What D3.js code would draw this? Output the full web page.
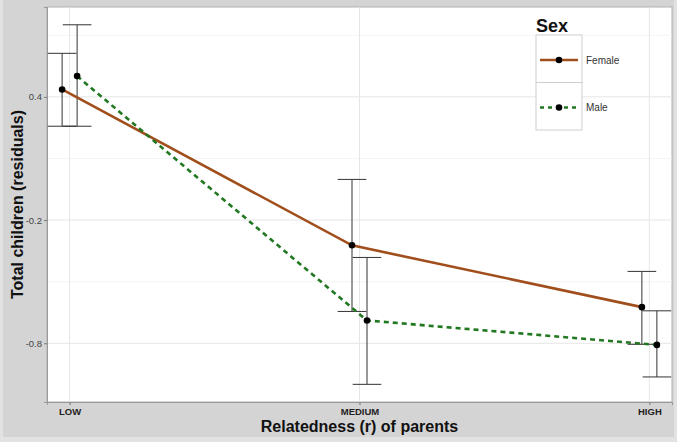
<!DOCTYPE html>
<html>
<head>
<meta charset="utf-8">
<script src="https://d3js.org/d3.v7.min.js"></script>
<style>
  body { margin: 0; background: #e2e2e2; }
  svg { display: block; font-family: "Liberation Sans", Arial, sans-serif; }
</style>
</head>
<body>
<div id="chart"></div>
<script>
// data
const categories = ["LOW", "MEDIUM", "HIGH"];
const sexes = ["Female", "Male"];
const femaleMean = [0.436, -0.323, -0.624];
const femaleLow = [0.257, -0.645, -0.805];
const femaleHigh = [0.612, -0.002, -0.450];
const maleMean = [0.501, -0.689, -0.808];
const maleLow = [0.257, -1.0, -0.964];
const maleHigh = [0.751, -0.382, -0.642];
const yTicks = [0.4, -0.2, -0.8];
const yMinor = [0.7, 0.1, -0.5];

const series = [
  { sex: sexes[0], mean: femaleMean, lo: femaleLow, hi: femaleHigh, color: "#a04f1c", dash: null, dodge: -1 },
  { sex: sexes[1], mean: maleMean, lo: maleLow, hi: maleHigh, color: "#217821", dash: "5,4", dodge: 1 }
];

const W = 677, H = 442;
const panel = { left: 47, right: 672, top: 7, bottom: 402 };

const svg = d3.select("#chart").append("svg")
  .attr("width", W).attr("height", H);

// outer gray background
svg.append("rect").attr("x", 3).attr("y", 0).attr("width", W - 6).attr("height", H - 5)
  .attr("fill", "#d4d4d4");

const x = d3.scalePoint().domain(categories)
  .range([panel.left, panel.right]).padding(0.078);
const y = d3.scaleLinear().domain([-1.086, 0.8376])
  .range([panel.bottom, panel.top]);
const dodgeW = 7.5, capW = 14.3;

// panel
svg.append("rect")
  .attr("x", panel.left).attr("y", panel.top)
  .attr("width", panel.right - panel.left).attr("height", panel.bottom - panel.top)
  .attr("fill", "#fff").attr("stroke", "#b0b0b0");

const grid = svg.append("g");
grid.selectAll(".minor").data(yMinor).join("line")
  .attr("x1", panel.left).attr("x2", panel.right)
  .attr("y1", d => y(d)).attr("y2", d => y(d))
  .attr("stroke", "#f2f2f2").attr("stroke-width", 0.8);
grid.selectAll(".major").data(yTicks).join("line")
  .attr("x1", panel.left).attr("x2", panel.right)
  .attr("y1", d => y(d)).attr("y2", d => y(d))
  .attr("stroke", "#e6e6e6").attr("stroke-width", 1);
grid.selectAll(".vx").data(categories).join("line")
  .attr("x1", d => x(d)).attr("x2", d => x(d))
  .attr("y1", panel.top).attr("y2", panel.bottom)
  .attr("stroke", "#e6e6e6").attr("stroke-width", 1);

// axis titles (drawn first so tick labels stay on top)
svg.append("text").attr("x", (panel.left + panel.right) / 2).attr("y", 432)
  .attr("text-anchor", "middle").attr("font-size", 16).attr("font-weight", "bold")
  .attr("fill", "#111").text("Relatedness (r) of parents");
svg.append("text").attr("transform", `translate(23,${(panel.top + panel.bottom) / 2}) rotate(-90)`)
  .attr("text-anchor", "middle").attr("font-size", 16).attr("font-weight", "bold")
  .attr("fill", "#111").text("Total children (residuals)");

// axes
const yAxis = svg.append("g").attr("transform", `translate(${panel.left},0)`)
  .call(d3.axisLeft(y).tickValues(yTicks).tickSize(3).tickPadding(2).tickFormat(d => d.toFixed(1)));
yAxis.select(".domain").attr("stroke", "#999");
yAxis.selectAll(".tick line").attr("stroke", "#777");
yAxis.selectAll("text").attr("fill", "#444").attr("font-size", 9.5)
  .attr("font-family", "Liberation Sans, sans-serif");

const xAxis = svg.append("g").attr("transform", `translate(0,${panel.bottom})`)
  .call(d3.axisBottom(x).tickSize(3).tickPadding(3));
xAxis.select(".domain").attr("stroke", "#999");
xAxis.selectAll(".tick line").attr("stroke", "#777");
xAxis.selectAll("text").attr("fill", "#222").attr("font-size", 9.5).attr("font-weight", "bold");

// error bars
series.forEach(s => {
  const g = svg.append("g");
  categories.forEach((c, i) => {
    const cx = x(c) + s.dodge * dodgeW;
    g.append("line").attr("x1", cx).attr("x2", cx)
      .attr("y1", y(s.lo[i])).attr("y2", y(s.hi[i]))
      .attr("stroke", "#333").attr("stroke-width", 1);
    [s.lo[i], s.hi[i]].forEach(v => {
      g.append("line").attr("x1", Math.max(panel.left, cx - capW)).attr("x2", cx + capW)
        .attr("y1", y(v)).attr("y2", y(v))
        .attr("stroke", "#333").attr("stroke-width", 1);
    });
  });
});

// lines + points
const line = d3.line().x(d => d.x).y(d => d.y);
series.forEach(s => {
  const pts = categories.map((c, i) => ({ x: x(c) + s.dodge * dodgeW, y: y(s.mean[i]) }));
  svg.append("path").datum(pts).attr("d", line)
    .attr("fill", "none").attr("stroke", s.color).attr("stroke-width", 2.6)
    .attr("stroke-dasharray", s.dash);
  svg.append("g").selectAll("circle").data(pts).join("circle")
    .attr("cx", d => d.x).attr("cy", d => d.y).attr("r", 3.3).attr("fill", "#000");
});

// legend
const leg = svg.append("g").attr("transform", "translate(536,0)");
leg.append("text").attr("x", 0).attr("y", 32).attr("font-size", 18).attr("font-weight", "bold")
  .attr("fill", "#111").text("Sex");
series.forEach((s, i) => {
  const ky = 35 + i * 47.5;
  leg.append("rect").attr("x", 0).attr("y", ky).attr("width", 46).attr("height", 47.5)
    .attr("fill", "#fff").attr("stroke", "#cfcfcf");
  leg.append("line").attr("x1", 4).attr("x2", 42).attr("y1", ky + 25).attr("y2", ky + 25)
    .attr("stroke", s.color).attr("stroke-width", 2.6).attr("stroke-dasharray", s.dash ? "4,4" : null);
  leg.append("circle").attr("cx", 23).attr("cy", ky + 25).attr("r", 3.3).attr("fill", "#000");
  leg.append("text").attr("x", 50).attr("y", ky + 28.5).attr("font-size", 10)
    .attr("fill", "#333").text(s.sex);
});
</script>
</body>
</html>
